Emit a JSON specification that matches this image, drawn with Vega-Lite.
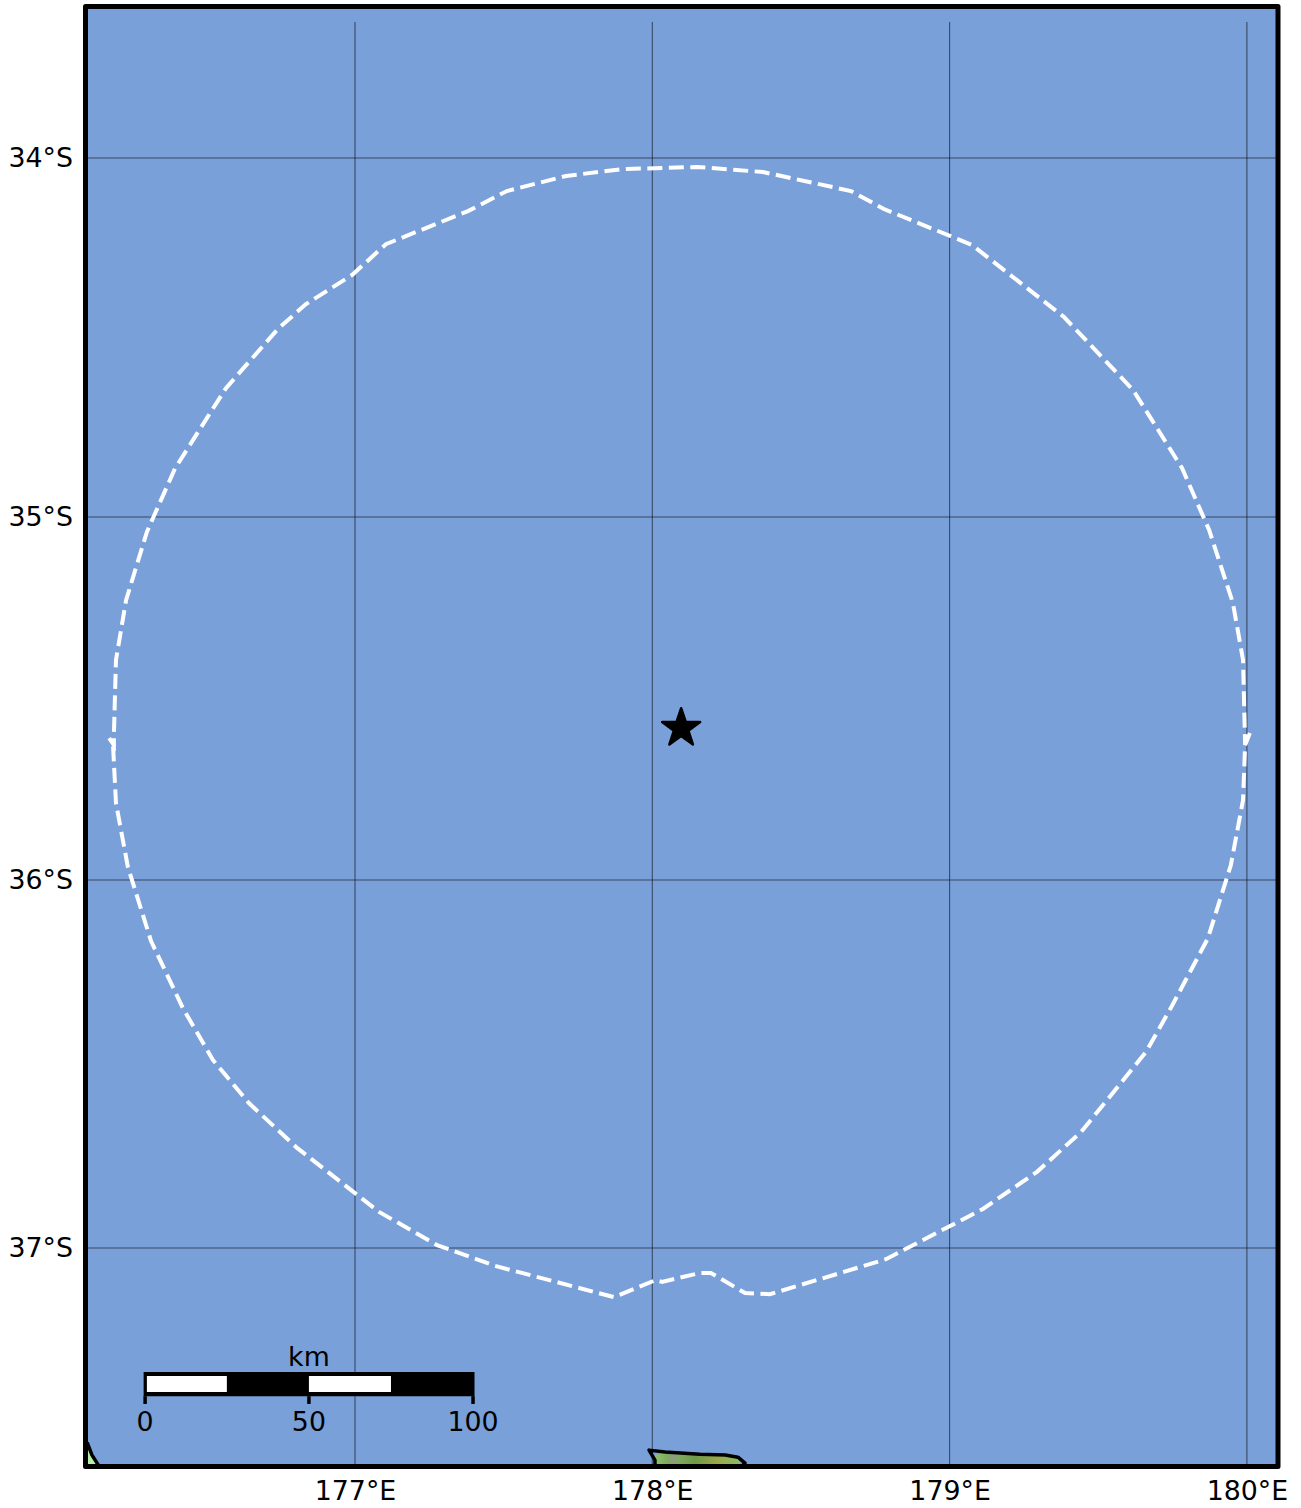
{"$schema":"https://vega.github.io/schema/vega-lite/v6.json","width":1192.5,"height":1460,"autosize":{"type":"none"},"padding":{"left":85.5,"top":6.5,"right":23,"bottom":41.5},"background":"white","view":{"fill":"#7aa0da","stroke":null},"config":{"font":"DejaVu Sans","axis":{"labelFont":"DejaVu Sans","labelFontSize":26.8,"labelColor":"#000000"}},
"encoding":{"x":{"field":"lon","type":"quantitative","scale":{"domain":[176.0935,180.1046],"nice":false,"zero":false},"axis":{"values":[177,178,179,180],"labelExpr":"datum.value+'°E'","title":null,"grid":false,"ticks":false,"domain":false,"labelPadding":11.5,"labelFlush":false,"labelOverlap":false,"labelBound":false,"format":"d"}},"y":{"field":"lat","type":"quantitative","scale":{"domain":[-37.587,-37,-36,-35,-34,-33.578],"range":[1460,1241.5,873.5,510.5,151.5,0],"nice":false,"zero":false},"axis":{"values":[-37,-36,-35,-34],"labelExpr":"abs(datum.value)+'°S'","title":null,"grid":false,"ticks":false,"domain":false,"labelPadding":13,"labelOverlap":false,"labelBound":false}}},
"layer":[
{"data":{"values":[{"lon":177,"lat":-33.621,"lat2":-37.587},{"lon":178,"lat":-33.621,"lat2":-37.587},{"lon":179,"lat":-33.621,"lat2":-37.587},{"lon":180,"lat":-33.621,"lat2":-37.587}]},"mark":{"type":"rule","color":"#000000","opacity":0.55,"strokeWidth":1.1},"encoding":{"y2":{"field":"lat2"}}},
{"data":{"values":[{"lon":176.0935,"lon2":180.1046,"lat":-34},{"lon":176.0935,"lon2":180.1046,"lat":-35},{"lon":176.0935,"lon2":180.1046,"lat":-36},{"lon":176.0935,"lon2":180.1046,"lat":-37}]},"mark":{"type":"rule","color":"#000000","opacity":0.55,"strokeWidth":1.1},"encoding":{"x2":{"field":"lon2"}}},
{"data":{"values":[{"o":1,"lon":176.173,"lat":-35.609},{"o":2,"lon":176.189,"lat":-35.628},{"o":3,"lon":176.189,"lat":-35.601},{"o":4,"lon":176.196,"lat":-35.394},{"o":5,"lon":176.23,"lat":-35.229},{"o":6,"lon":176.3,"lat":-35.041},{"o":7,"lon":176.395,"lat":-34.864},{"o":8,"lon":176.566,"lat":-34.641},{"o":9,"lon":176.741,"lat":-34.476},{"o":10,"lon":176.835,"lat":-34.407},{"o":11,"lon":176.99,"lat":-34.326},{"o":12,"lon":177.104,"lat":-34.24},{"o":13,"lon":177.38,"lat":-34.148},{"o":14,"lon":177.511,"lat":-34.092},{"o":15,"lon":177.71,"lat":-34.05},{"o":16,"lon":177.898,"lat":-34.031},{"o":17,"lon":178.15,"lat":-34.025},{"o":18,"lon":178.372,"lat":-34.039},{"o":19,"lon":178.668,"lat":-34.092},{"o":20,"lon":178.779,"lat":-34.142},{"o":21,"lon":179.075,"lat":-34.242},{"o":22,"lon":179.385,"lat":-34.443},{"o":23,"lon":179.617,"lat":-34.646},{"o":24,"lon":179.782,"lat":-34.864},{"o":25,"lon":179.873,"lat":-35.036},{"o":26,"lon":179.953,"lat":-35.237},{"o":27,"lon":179.987,"lat":-35.394},{"o":28,"lon":179.994,"lat":-35.628},{"o":29,"lon":180.01,"lat":-35.595},{"o":30,"lon":179.994,"lat":-35.628},{"o":31,"lon":179.987,"lat":-35.78},{"o":32,"lon":179.946,"lat":-35.959},{"o":33,"lon":179.869,"lat":-36.158},{"o":34,"lon":179.748,"lat":-36.342},{"o":35,"lon":179.661,"lat":-36.467},{"o":36,"lon":179.442,"lat":-36.685},{"o":37,"lon":179.294,"lat":-36.793},{"o":38,"lon":179.112,"lat":-36.894},{"o":39,"lon":178.786,"lat":-37.03},{"o":40,"lon":178.396,"lat":-37.124},{"o":41,"lon":178.312,"lat":-37.121},{"o":42,"lon":178.197,"lat":-37.067},{"o":43,"lon":178.16,"lat":-37.067},{"o":44,"lon":178.033,"lat":-37.091},{"o":45,"lon":178.012,"lat":-37.086},{"o":46,"lon":177.871,"lat":-37.132},{"o":47,"lon":177.471,"lat":-37.048},{"o":48,"lon":177.276,"lat":-36.992},{"o":49,"lon":177.081,"lat":-36.902},{"o":50,"lon":176.805,"lat":-36.728},{"o":51,"lon":176.643,"lat":-36.606},{"o":52,"lon":176.522,"lat":-36.489},{"o":53,"lon":176.421,"lat":-36.348},{"o":54,"lon":176.314,"lat":-36.166},{"o":55,"lon":176.236,"lat":-35.964},{"o":56,"lon":176.196,"lat":-35.788},{"o":57,"lon":176.186,"lat":-35.628}]},"mark":{"type":"line","color":"#ffffff","strokeWidth":4,"strokeDash":[15,6.5],"interpolate":"linear"},"encoding":{"order":{"field":"o","type":"quantitative"}}},
{"data":{"values":[{"lon":178.097,"lat":-35.582}]},"mark":{"type":"point","shape":"M0,-1 L0.235,-0.309 L0.951,-0.309 L0.363,0.118 L0.588,0.809 L0,0.382 L-0.588,0.809 L-0.363,0.118 L-0.951,-0.309 L-0.235,-0.309 Z","size":1600,"filled":true,"fill":"#000000","stroke":"#000000","strokeWidth":2.5,"strokeJoin":"round","opacity":1}},
{"data":{"values":[{"lon":176.289,"lon2":177.402,"lat":-37.333,"lat2":-37.398}]},"mark":{"type":"rect","fill":"#000000"},"encoding":{"x2":{"field":"lon2"},"y2":{"field":"lat2"}}},
{"data":{"values":[{"lon":176.3,"lon2":176.569,"lat":-37.344,"lat2":-37.387},{"lon":176.845,"lon2":177.121,"lat":-37.344,"lat2":-37.387}]},"mark":{"type":"rect","fill":"#ffffff"},"encoding":{"x2":{"field":"lon2"},"y2":{"field":"lat2"}}},
{"data":{"values":[{"lon":176.294,"lat":-37.398,"lat2":-37.419},{"lon":176.845,"lat":-37.398,"lat2":-37.419},{"lon":177.397,"lat":-37.398,"lat2":-37.419}]},"mark":{"type":"rule","color":"#000000","strokeWidth":3.5},"encoding":{"y2":{"field":"lat2"}}},
{"data":{"values":[{"lon":176.294,"lat":-37.47,"t":"0"},{"lon":176.845,"lat":-37.47,"t":"50"},{"lon":177.397,"lat":-37.47,"t":"100"},{"lon":176.845,"lat":-37.296,"t":"km"}]},"mark":{"type":"text","font":"DejaVu Sans","fontSize":26.8,"color":"#000000","align":"center","baseline":"middle"},"encoding":{"text":{"field":"t"}}},
{"data":{"values":[{"lon":176.0935,"lat":-37.522},{"lon":176.099,"lat":-37.522},{"lon":176.115,"lat":-37.556},{"lon":176.139,"lat":-37.586}]},"mark":{"type":"area","color":"#b5f0a5"},"encoding":{"y2":{"datum":-37.587}}},
{"data":{"values":[{"lon":176.099,"lat":-37.522},{"lon":176.115,"lat":-37.556},{"lon":176.139,"lat":-37.586}]},"mark":{"type":"line","color":"#000000","strokeWidth":3.5}},
{"data":{"values":[{"lon":178.009,"lat":-37.557},{"lon":178.043,"lat":-37.548},{"lon":178.16,"lat":-37.554},{"lon":178.245,"lat":-37.556},{"lon":178.288,"lat":-37.562},{"lon":178.312,"lat":-37.578},{"lon":178.3,"lat":-37.587}]},"mark":{"type":"area","color":{"gradient":"linear","x1":0,"x2":1,"y1":0,"y2":0,"stops":[{"offset":0,"color":"#8cc46a"},{"offset":0.14,"color":"#7fa860"},{"offset":0.2,"color":"#8f9a80"},{"offset":0.26,"color":"#7fa860"},{"offset":0.45,"color":"#6f9a48"},{"offset":0.7,"color":"#9aa848"},{"offset":1,"color":"#86c070"}]}},"encoding":{"y2":{"datum":-37.587}}},
{"data":{"values":[{"o":1,"lon":178.009,"lat":-37.587},{"o":2,"lon":178.009,"lat":-37.57},{"o":3,"lon":177.989,"lat":-37.543},{"o":4,"lon":178.043,"lat":-37.548},{"o":5,"lon":178.16,"lat":-37.554},{"o":6,"lon":178.245,"lat":-37.556},{"o":7,"lon":178.288,"lat":-37.562},{"o":8,"lon":178.312,"lat":-37.578},{"o":9,"lon":178.3,"lat":-37.587}]},"mark":{"type":"line","color":"#000000","strokeWidth":3.5,"strokeJoin":"round"},"encoding":{"order":{"field":"o","type":"quantitative"}}},
{"data":{"values":[{"lon":176.0935,"lon2":180.1046,"lat":-33.578,"lat2":-37.587}]},"mark":{"type":"rect","fill":null,"stroke":"#000000","strokeWidth":5,"strokeJoin":"round","clip":false},"encoding":{"x2":{"field":"lon2"},"y2":{"field":"lat2"}}}
]}
